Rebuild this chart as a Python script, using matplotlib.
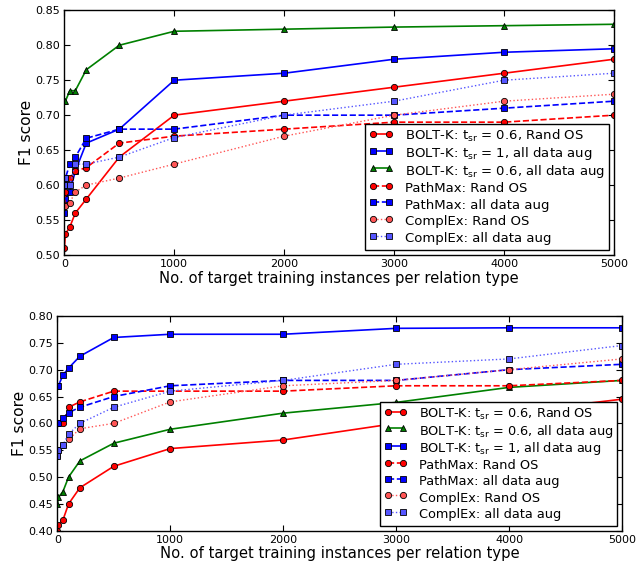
import matplotlib
matplotlib.use("Agg")
import matplotlib.pyplot as plt

x = [1, 10, 50, 100, 200, 500, 1000, 2000, 3000, 4000, 5000]

# Top chart
top_bolt_rand = [0.51, 0.53, 0.54, 0.56, 0.58, 0.64, 0.70, 0.72, 0.74, 0.76, 0.78]
top_bolt1_aug = [0.56, 0.58, 0.59, 0.62, 0.66, 0.68, 0.75, 0.76, 0.78, 0.79, 0.795]
top_bolt06_aug = [0.72, 0.72, 0.735, 0.735, 0.765, 0.80, 0.82, 0.823, 0.826, 0.828, 0.83]
top_path_rand = [0.57, 0.59, 0.61, 0.62, 0.625, 0.66, 0.67, 0.68, 0.69, 0.69, 0.70]
top_path_aug = [0.60, 0.61, 0.63, 0.64, 0.667, 0.68, 0.68, 0.70, 0.70, 0.71, 0.72]
top_cplx_rand = [0.57, 0.57, 0.575, 0.59, 0.60, 0.61, 0.63, 0.67, 0.70, 0.72, 0.73]
top_cplx_aug = [0.60, 0.61, 0.60, 0.63, 0.63, 0.64, 0.668, 0.70, 0.72, 0.75, 0.76]

# Bottom chart
bot_bolt_rand = [0.40, 0.41, 0.42, 0.45, 0.48, 0.52, 0.553, 0.569, 0.60, 0.62, 0.645]
bot_bolt06_aug = [0.45, 0.462, 0.473, 0.50, 0.53, 0.563, 0.589, 0.619, 0.639, 0.667, 0.68]
bot_bolt1_aug = [0.67, 0.67, 0.69, 0.703, 0.725, 0.76, 0.766, 0.766, 0.777, 0.778, 0.778]
bot_path_rand = [0.60, 0.60, 0.60, 0.63, 0.64, 0.66, 0.66, 0.66, 0.67, 0.67, 0.68]
bot_path_aug = [0.60, 0.60, 0.61, 0.62, 0.63, 0.65, 0.67, 0.68, 0.68, 0.70, 0.71]
bot_cplx_rand = [0.54, 0.55, 0.56, 0.57, 0.59, 0.60, 0.64, 0.67, 0.68, 0.70, 0.72]
bot_cplx_aug = [0.54, 0.55, 0.56, 0.58, 0.60, 0.63, 0.66, 0.68, 0.71, 0.72, 0.745]

labels_top = [
    r"BOLT-K: t$_{\mathregular{sr}}$ = 0.6, Rand OS",
    r"BOLT-K: t$_{\mathregular{sr}}$ = 1, all data aug",
    r"BOLT-K: t$_{\mathregular{sr}}$ = 0.6, all data aug",
    "PathMax: Rand OS",
    "PathMax: all data aug",
    "ComplEx: Rand OS",
    "ComplEx: all data aug",
]
labels_bot = [
    r"BOLT-K: t$_{\mathregular{sr}}$ = 0.6, Rand OS",
    r"BOLT-K: t$_{\mathregular{sr}}$ = 0.6, all data aug",
    r"BOLT-K: t$_{\mathregular{sr}}$ = 1, all data aug",
    "PathMax: Rand OS",
    "PathMax: all data aug",
    "ComplEx: Rand OS",
    "ComplEx: all data aug",
]

plt.rcParams.update({
    "font.family": "DejaVu Sans",
    "mathtext.fontset": "dejavusans",
    "xtick.direction": "in",
    "ytick.direction": "in",
    "xtick.top": True,
    "ytick.right": True,
    "xtick.major.size": 4,
    "ytick.major.size": 4,
    "legend.numpoints": 2,
    "axes.linewidth": 1.0,
})

fig = plt.figure(figsize=(6.36, 5.61), dpi=100)
ax1 = fig.add_axes([64.3 / 636, (561 - 255) / 561, (614 - 64.3) / 636, (255 - 10.3) / 561])
ax2 = fig.add_axes([57.3 / 636, (561 - 530.7) / 561, (622 - 57.3) / 636, (530.7 - 316) / 561])

mk = dict(markeredgecolor="k", markeredgewidth=0.6, markersize=4.5)


def plot_series(ax, series, labels):
    for (vals, color, ls, m, lw), lab in zip(series, labels):
        ax.plot(x, vals, color=color, linestyle=ls, marker=m, linewidth=lw, label=lab, **mk)


series_top = [
    (top_bolt_rand, "r", "-", "o", 1.2),
    (top_bolt1_aug, "b", "-", "s", 1.2),
    (top_bolt06_aug, "g", "-", "^", 1.2),
    (top_path_rand, "r", "--", "o", 1.2),
    (top_path_aug, "b", "--", "s", 1.2),
    (top_cplx_rand, "#ff5555", ":", "o", 1.0),
    (top_cplx_aug, "#5555ff", ":", "s", 1.0),
]
series_bot = [
    (bot_bolt_rand, "r", "-", "o", 1.2),
    (bot_bolt06_aug, "g", "-", "^", 1.2),
    (bot_bolt1_aug, "b", "-", "s", 1.2),
    (bot_path_rand, "r", "--", "o", 1.2),
    (bot_path_aug, "b", "--", "s", 1.2),
    (bot_cplx_rand, "#ff5555", ":", "o", 1.0),
    (bot_cplx_aug, "#5555ff", ":", "s", 1.0),
]

plot_series(ax1, series_top, labels_top)
plot_series(ax2, series_bot, labels_bot)

ax1.set_xlim(0, 5000)
ax1.set_ylim(0.50, 0.85)
ax1.set_yticks([0.50, 0.55, 0.60, 0.65, 0.70, 0.75, 0.80, 0.85])
ax2.set_xlim(0, 5000)
ax2.set_ylim(0.40, 0.80)
ax2.set_yticks([0.40, 0.45, 0.50, 0.55, 0.60, 0.65, 0.70, 0.75, 0.80])

for ax, lfs in ((ax1, 9.5), (ax2, 9.3)):
    ax.set_xticks([0, 1000, 2000, 3000, 4000, 5000])
    ax.yaxis.set_major_formatter(matplotlib.ticker.FormatStrFormatter("%.2f"))
    ax.tick_params(labelsize=8, pad=3)
    ax.set_xlabel("No. of target training instances per relation type", fontsize=10.6, labelpad=1)
    ax.set_ylabel("F1 score", fontsize=11.2, labelpad=1)
    leg = ax.legend(loc="lower right", fontsize=lfs, fancybox=False, framealpha=1,
                    edgecolor="k", handlelength=1.8, handleheight=1.55, borderaxespad=0.4,
                    labelspacing=0.0, handletextpad=0.9, borderpad=0.3)
    leg.get_frame().set_linewidth(1.0)

fig.savefig("out.png", dpi=100, facecolor="white")
